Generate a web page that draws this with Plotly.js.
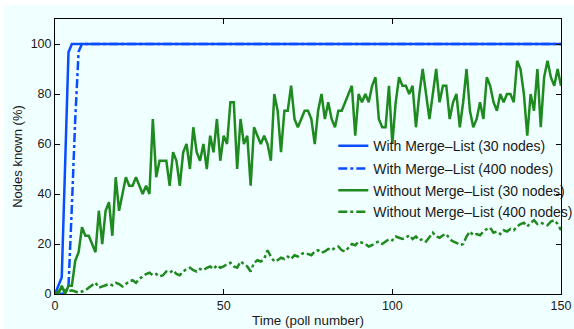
<!DOCTYPE html>
<html>
<head>
<meta charset="utf-8">
<script src="https://cdn.plot.ly/plotly-3.0.1.min.js"></script>
<style>
html,body{margin:0;padding:0;background:#ffffff;}
#chart{position:absolute;left:4px;top:5px;width:570px;height:324px;}
</style>
</head>
<body>
<div id="chart"></div>
<script>
// Legend labels
var seriesNames = [
  "With Merge\u2013List (30 nodes)",
  "With Merge\u2013List (400 nodes)",
  "Without Merge\u2013List (30 nodes)",
  "Without Merge\u2013List (400 nodes)"
];

// With Merge-List, 30 nodes (poll, %)
var blue30Polls = [0, 1, 2, 3, 4, 5, 150];
var blue30 = [0, 3.3, 6.7, 51.7, 96.7, 100, 100];

// With Merge-List, 400 nodes (poll, %)
var blue400Polls = [0, 1, 2, 3, 4, 5, 6, 7, 8, 150];
var blue400 = [0, 0, 0, 0.5, 3, 35, 70, 97, 100, 100];

// Without Merge-List, 30 nodes (one value per poll, 0..150)
var green30 = [
  0, 0, 3.3, 0, 3.3, 3.3, 13.3, 16.7, 26.7, 23.3,
  23.3, 20, 16.7, 33.3, 20, 33.3, 36.7, 23.3, 46.7, 33.3,
  40, 46.7, 43.3, 43.3, 46.7, 43.3, 40, 43.3, 40, 70,
  46.7, 53.3, 53.3, 53.3, 43.3, 56.7, 53.3, 43.3, 56.7, 60,
  50, 66.7, 56.7, 53.3, 60, 50, 63.3, 56.7, 70, 53.3,
  63.3, 60, 76.7, 76.7, 50, 70, 60, 63.3, 43.3, 66.7,
  63.3, 60, 63.3, 60, 53.3, 80, 73.3, 56.7, 73.3, 73.3,
  83.3, 70, 66.7, 70, 73.3, 73.3, 70, 60, 73.3, 80,
  70, 76.7, 70, 66.7, 73.3, 73.3, 76.7, 80, 83.3, 63.3,
  80, 76.7, 80, 76.7, 83.3, 86.7, 70, 66.7, 66.7, 83.3,
  60, 76.7, 86.7, 83.3, 83.3, 80, 83.3, 66.7, 80, 90,
  80, 70, 80, 90, 76.7, 83.3, 83.3, 70, 76.7, 80,
  66.7, 76.7, 90, 73.3, 66.7, 70, 76.7, 70, 86.7, 83.3,
  76.7, 73.3, 80, 76.7, 80, 80, 76.7, 93.3, 90, 80,
  63.3, 80, 73.3, 90, 66.7, 86.7, 93.3, 86.7, 83.3, 90,
  83.3
];

// Without Merge-List, 400 nodes (one value per poll, 0..150)
var green400 = [
  0, 1, 2.5, 1.5, 1, 1.5, 1, 0.5, 1, 1.5,
  2.5, 3.5, 4.5, 2.5, 3, 3.5, 4, 3.5, 4.5, 4,
  3, 4, 5, 5.5, 4.5, 6, 7, 8, 8.5, 7.5,
  8, 7, 7.5, 9, 8.5, 9.5, 8, 7.5, 9, 10,
  10.5, 9.5, 9, 10, 9.5, 10.5, 11, 10, 11.5, 10.5,
  11, 12, 12.5, 11, 10.5, 13, 12, 11, 9, 12.5,
  13.5, 13, 14, 17.5, 15, 13, 13.5, 14.5, 14, 15,
  14, 15.5, 15, 16, 16.5, 16, 15.5, 17, 17.5, 16.5,
  17, 18, 17.5, 18.5, 19, 17.5, 17, 18.5, 20, 19.5,
  21, 20.5, 20, 19, 19.5, 20.5, 21, 20, 21, 22,
  21.5, 23, 22.5, 22, 22.5, 23.5, 22, 23, 21.5, 22,
  21, 23, 24.5, 23, 22.5, 23.5, 24, 22, 21, 20.5,
  19.5, 20, 23, 25, 23.5, 24, 23.5, 25, 26, 26.5,
  24.5, 25, 24, 25.5, 25, 26, 25.5, 27, 28, 28.5,
  27, 28.5, 29.5, 28, 28.5, 28, 27.5, 29, 29.5, 28,
  25.5
];
var polls = green30.map(function (_, i) { return i; });

var xTicks = [0, 50, 100, 150];
var yTicks = [0, 20, 40, 60, 80, 100];

var BLUE = "#0a4cff";
var GREEN = "#1f8a1f";
var FONT = "Liberation Sans, Arial, Helvetica, sans-serif";

var traces = [
  {x: blue30Polls, y: blue30, name: seriesNames[0], legend: "legend",
   mode: "lines", line: {color: BLUE, width: 2.5}},
  {x: blue400Polls, y: blue400, name: seriesNames[1], legend: "legend2",
   mode: "lines", line: {color: BLUE, width: 2.5, dash: "dashdot"}},
  {x: polls, y: green30, name: seriesNames[2], legend: "legend3",
   mode: "lines", line: {color: GREEN, width: 2.5}},
  {x: polls, y: green400, name: seriesNames[3], legend: "legend4",
   mode: "lines", line: {color: GREEN, width: 2.5, dash: "dashdot"}}
];

function leg(y) {
  return {x: 0.55, y: y, xanchor: "left", yanchor: "middle",
          bgcolor: "rgba(0,0,0,0)", borderwidth: 0,
          font: {family: FONT, size: 14, color: "#1a1a1a"}};
}

var layout = {
  width: 570, height: 324,
  margin: {l: 51, r: 13, t: 14, b: 35, pad: 0, autoexpand: false},
  paper_bgcolor: "#f0ffff",
  plot_bgcolor: "#f0ffff",
  font: {family: FONT, size: 12.5, color: "#1a1a1a"},
  showlegend: true,
  legend: leg(0.538),
  legend2: leg(0.4545),
  legend3: leg(0.376),
  legend4: leg(0.298),
  xaxis: {
    range: [0, 150], tickvals: xTicks, ticktext: xTicks.map(String),
    showgrid: false, zeroline: false,
    showline: true, linecolor: "#000", linewidth: 1, mirror: "ticks",
    ticks: "inside", ticklen: 5, tickcolor: "#000",
    tickfont: {family: FONT, size: 12.5},
    title: {text: "Time (poll number)", font: {family: FONT, size: 13.4}, standoff: 3}
  },
  yaxis: {
    range: [0, 110], tickvals: yTicks, ticktext: yTicks.map(String),
    showgrid: false, zeroline: false,
    showline: true, linecolor: "#000", linewidth: 1, mirror: "ticks",
    ticks: "inside", ticklen: 5, tickcolor: "#000",
    tickfont: {family: FONT, size: 12.5},
    title: {text: "Nodes known (%)", font: {family: FONT, size: 13}, standoff: 5}
  }
};

Plotly.newPlot("chart", traces, layout, {staticPlot: true, displayModeBar: false});
</script>
</body>
</html>
